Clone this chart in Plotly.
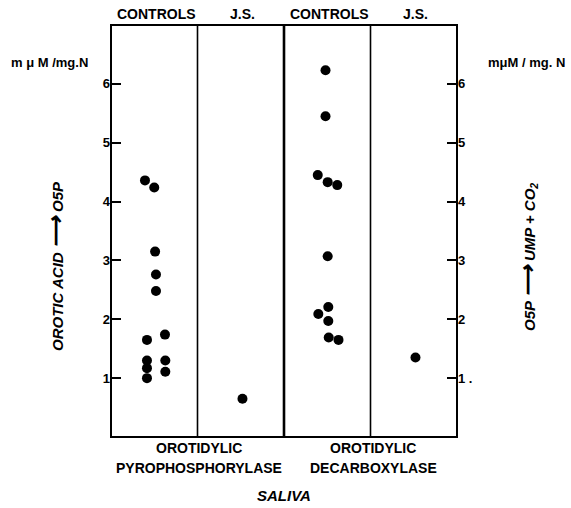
import plotly.graph_objects as go

# Panel categories (x positions are panel index + within-panel jitter offset)
panels = ["CONTROLS", "J.S.", "CONTROLS", "J.S."]
panel_index = [0, 1, 2, 3]

# Orotidylic pyrophosphorylase (left axis: orotic acid -> O5P), mμM/mg.N
pyro_controls = [4.36, 4.24, 3.15, 2.76, 2.48, 1.65, 1.74, 1.30, 1.17, 1.00, 1.30, 1.11]
pyro_controls_jitter = [-0.107, 0.0, 0.01, 0.02, 0.02, -0.084, 0.124, -0.084, -0.084, -0.084, 0.128, 0.128]
pyro_js = [0.65]
pyro_js_jitter = [0.02]

# Orotidylic decarboxylase (right axis: O5P -> UMP + CO2), mμM/mg.N
decarb_controls = [6.23, 5.45, 4.45, 4.33, 4.28, 3.07, 2.21, 2.09, 1.97, 1.69, 1.65]
decarb_controls_jitter = [-0.02, -0.02, -0.11, 0.005, 0.116, 0.005, 0.012, -0.103, 0.012, 0.017, 0.13]
decarb_js = [1.35]
decarb_js_jitter = [0.02]

y_ticks = [1, 2, 3, 4, 5, 6]
y_ticktext_left = ["1", "2", "3", "4", "5", "6"]
y_ticktext_right = ["1 .", "2", "3", "4", "5", "6"]

FONT = "Liberation Sans"

def xs(idx, jit):
    return [idx + 0.5 + j for j in jit]

fig = go.Figure()
marker = dict(color="black", size=10, line=dict(width=0))
fig.add_trace(go.Scatter(x=xs(panel_index[0], pyro_controls_jitter), y=pyro_controls,
                         mode="markers", marker=marker, showlegend=False))
fig.add_trace(go.Scatter(x=xs(panel_index[1], pyro_js_jitter), y=pyro_js,
                         mode="markers", marker=marker, showlegend=False))
fig.add_trace(go.Scatter(x=xs(panel_index[2], decarb_controls_jitter), y=decarb_controls,
                         mode="markers", marker=marker, showlegend=False))
fig.add_trace(go.Scatter(x=xs(panel_index[3], decarb_js_jitter), y=decarb_js,
                         mode="markers", marker=marker, showlegend=False, yaxis="y2"))

tickfont = dict(family=FONT, size=13, color="black", weight="bold")
fig.update_layout(
    width=571, height=508,
    margin=dict(l=111, r=114, t=25, b=71),
    paper_bgcolor="white", plot_bgcolor="white",
    xaxis=dict(range=[0, 4], showgrid=False, zeroline=False, showticklabels=False,
               ticks="", showline=False, fixedrange=True),
    yaxis=dict(range=[0, 7], showgrid=False, zeroline=False, tickvals=y_ticks,
               ticktext=y_ticktext_left, ticks="inside", ticklen=10, tickwidth=2,
               tickcolor="black", tickfont=tickfont, showline=False),
    yaxis2=dict(range=[0, 7], overlaying="y", side="right", showgrid=False, zeroline=False,
                tickvals=y_ticks, ticktext=y_ticktext_right, ticks="inside", ticklen=10,
                tickwidth=2, tickcolor="black", tickfont=tickfont, showline=False),
)

# Frame and panel dividers
fig.add_shape(type="rect", xref="paper", yref="paper", x0=0, x1=1, y0=0, y1=1,
              line=dict(color="black", width=2))
for i, w in zip([1, 2, 3], [1.6, 2.6, 1.6]):
    fig.add_shape(type="line", xref="x", yref="paper", x0=i, x1=i, y0=0, y1=1,
                  line=dict(color="black", width=w))

ann_font = dict(family=FONT, size=14, color="black", weight="bold")
for idx, name in zip(panel_index, panels):
    fig.add_annotation(x=idx + 0.5 + (0.03 if name == "CONTROLS" else 0.02), y=1.027,
                       xref="x", yref="paper", text=name, showarrow=False,
                       font=ann_font, xanchor="center", yanchor="middle")

unit_font = dict(family=FONT, size=13, color="black", weight="bold")
fig.add_annotation(x=-0.179, y=0.908, xref="paper", yref="paper", text="m μ M /mg.N",
                   showarrow=False, font=unit_font, xanchor="center", yanchor="middle")
fig.add_annotation(x=1.202, y=0.910, xref="paper", yref="paper", text="mμM / mg. N",
                   showarrow=False, font=unit_font, xanchor="center", yanchor="middle")

title_font = dict(family=FONT, size=15, color="black", weight="bold", style="italic")
arrow = "<span style='font-size:22px'>⟶</span>"
fig.add_annotation(x=-0.162, y=0.415, xref="paper", yref="paper",
                   text="OROTIC ACID " + arrow + " O5P", textangle=-90, showarrow=False,
                   font=title_font, xanchor="center", yanchor="middle")
fig.add_annotation(x=1.205, y=0.437, xref="paper", yref="paper",
                   text="O5P " + arrow + " UMP + CO<sub>2</sub>", textangle=-90,
                   showarrow=False, font=title_font, xanchor="center", yanchor="middle")

fig.add_annotation(x=1.02, y=-0.0267, xref="x", yref="paper", text="OROTIDYLIC",
                   showarrow=False, font=ann_font, xanchor="center", yanchor="middle")
fig.add_annotation(x=1.02, y=-0.075, xref="x", yref="paper", text="PYROPHOSPHORYLASE",
                   showarrow=False, font=ann_font, xanchor="center", yanchor="middle")
fig.add_annotation(x=3.03, y=-0.0267, xref="x", yref="paper", text="OROTIDYLIC",
                   showarrow=False, font=ann_font, xanchor="center", yanchor="middle")
fig.add_annotation(x=3.03, y=-0.075, xref="x", yref="paper", text="DECARBOXYLASE",
                   showarrow=False, font=ann_font, xanchor="center", yanchor="middle")
fig.add_annotation(x=0.5, y=-0.141, xref="paper", yref="paper", text="SALIVA",
                   showarrow=False, font=title_font, xanchor="center", yanchor="middle")

fig.write_html("out.html", config={"displayModeBar": False},
               post_script="document.body.style.margin='0';")
